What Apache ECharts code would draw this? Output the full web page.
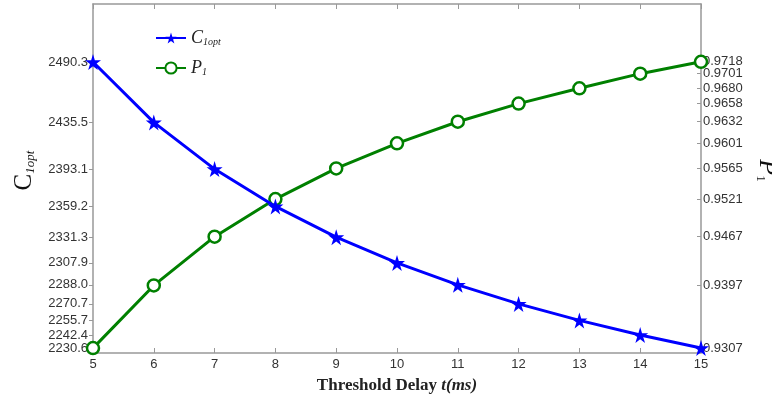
<!DOCTYPE html>
<html>
<head>
<meta charset="utf-8">
<script src="https://cdn.jsdelivr.net/npm/echarts@6/dist/echarts.min.js"></script>
<style>html,body{margin:0;padding:0;background:#fff}#c{width:772px;height:398px}</style>
</head>
<body>
<div id="c"></div>
<script>
const delays = [5, 6, 7, 8, 9, 10, 11, 12, 13, 14, 15];
const c1opt = [2490.3, 2435.5, 2393.1, 2359.2, 2331.3, 2307.9, 2288.0, 2270.7, 2255.7, 2242.4, 2230.6];
const p1 = [0.9307, 0.9397, 0.9467, 0.9521, 0.9565, 0.9601, 0.9632, 0.9658, 0.9680, 0.9701, 0.9718];
const leftTicks = c1opt.slice();
const rightTicks = p1.slice();
const rightTopTick = [p1[p1.length - 1]];

const STAR = 'path://M50,0 L61,35 L98,35 L68,57 L79,91 L50,70 L21,91 L32,57 L2,35 L39,35 Z';
const axisGray = '#999';
const labelFont = { color: '#333', fontFamily: 'Liberation Sans', fontSize: 13, hideOverlap: false };

const chart = echarts.init(document.getElementById('c'));
chart.setOption({
  animation: false,
  backgroundColor: '#fff',
  grid: { left: 93, right: 71, top: 4, bottom: 45, containLabel: false, outerBoundsMode: 'none' },
  legend: {
    left: 150, top: 24, orient: 'vertical', itemGap: 12,
    itemWidth: 30, itemHeight: 14,
    data: ['C1opt', 'P1'],
    formatter: function (n) { return n === 'C1opt' ? '{c|C}{s|1opt}' : '{c|P}{s|1}'; },
    textStyle: {
      rich: {
        c: { fontFamily: 'Liberation Serif', fontStyle: 'italic', fontSize: 18, color: '#222' },
        s: { fontFamily: 'Liberation Serif', fontStyle: 'italic', fontSize: 10, color: '#222', verticalAlign: 'bottom', padding: [6, 0, 0, 0] }
      }
    }
  },
  xAxis: [{
    type: 'value', min: 5, max: 15, interval: 1,
    name: '{b|Threshold Delay }{i|t(ms)}', nameLocation: 'middle', nameGap: 24,
    nameTextStyle: {
      rich: {
        b: { fontFamily: 'Liberation Serif', fontWeight: 'bold', fontSize: 17, color: '#222' },
        i: { fontFamily: 'Liberation Serif', fontWeight: 'bold', fontStyle: 'italic', fontSize: 17, color: '#222' }
      }
    },
    axisLine: { lineStyle: { color: axisGray, width: 1.5 } },
    axisTick: { inside: true, length: 5, lineStyle: { color: axisGray } },
    axisLabel: Object.assign({ margin: 5 }, labelFont),
    splitLine: { show: false }
  }, {
    type: 'value', min: 5, max: 15, interval: 1, position: 'top',
    axisLine: { lineStyle: { color: axisGray, width: 1.5 } },
    axisTick: { inside: true, length: 5, lineStyle: { color: axisGray } },
    axisLabel: { show: false },
    splitLine: { show: false }
  }],
  yAxis: [{
    type: 'value', min: 2226.1, max: 2543, position: 'left',
    name: '{c|C}{s|1opt}', nameLocation: 'middle', nameGap: 56,
    nameTextStyle: {
      padding: [0, 0, 0, 16],
      rich: {
        c: { fontFamily: 'Liberation Serif', fontSize: 25, color: '#111' },
        s: { fontFamily: 'Liberation Serif', fontStyle: 'italic', fontSize: 13, color: '#111', verticalAlign: 'bottom', padding: [9, 0, 0, 0] }
      }
    },
    axisLine: { show: true, lineStyle: { color: axisGray, width: 1.5 } },
    axisTick: { show: true, length: 4, lineStyle: { color: axisGray }, customValues: leftTicks },
    axisLabel: Object.assign({ margin: 5, customValues: leftTicks, formatter: v => v.toFixed(1) }, labelFont),
    splitLine: { show: false }
  }, {
    type: 'value', min: 0.93, max: 0.9801, position: 'right',
    name: '{c|P}{s|1}', nameLocation: 'middle', nameGap: 51, nameRotate: -90,
    nameTextStyle: {
      padding: [0, 16, 0, 0],
      rich: {
        c: { fontFamily: 'Liberation Serif', fontStyle: 'italic', fontSize: 26, color: '#111' },
        s: { fontFamily: 'Liberation Serif', fontSize: 13, color: '#111', verticalAlign: 'bottom', padding: [9, 0, 0, 0] }
      }
    },
    axisLine: { show: true, lineStyle: { color: axisGray, width: 1.5 } },
    axisTick: { show: true, inside: true, length: 4, lineStyle: { color: axisGray }, customValues: rightTicks },
    axisLabel: Object.assign({ margin: 2, customValues: rightTicks, formatter: v => v.toFixed(4) }, labelFont),
    splitLine: { show: false }
  }, {
    type: 'value', min: 0.93, max: 0.9801, position: 'right',
    axisLine: { show: false },
    axisTick: { show: false },
    axisLabel: Object.assign({ margin: 2, customValues: rightTopTick, formatter: v => v.toFixed(4) }, labelFont),
    splitLine: { show: false }
  }],
  series: [{
    name: 'C1opt', type: 'line', xAxisIndex: 0, yAxisIndex: 0,
    data: delays.map((d, i) => [d, c1opt[i]]),
    symbol: STAR, symbolSize: 16,
    lineStyle: { color: '#0000ff', width: 3 },
    itemStyle: { color: '#0000ff' },
    z: 3
  }, {
    name: 'P1', type: 'line', xAxisIndex: 0, yAxisIndex: 1,
    data: delays.map((d, i) => [d, p1[i]]),
    symbol: 'circle', symbolSize: 12,
    lineStyle: { color: '#008000', width: 3 },
    itemStyle: { color: '#ffffff', borderColor: '#008000', borderWidth: 2.5 },
    z: 2
  }]
});
</script>
</body>
</html>
